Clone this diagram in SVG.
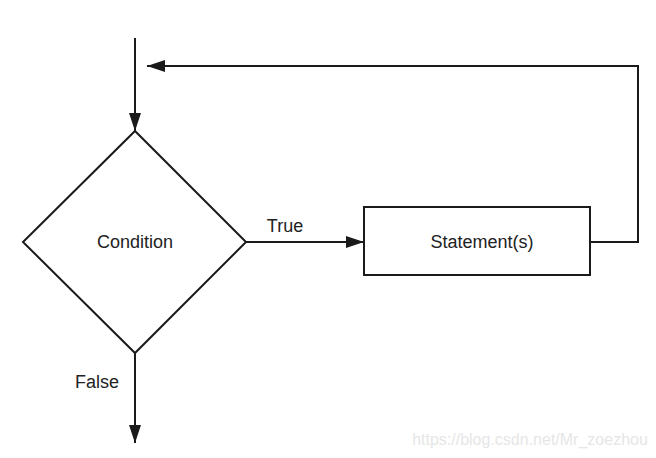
<svg xmlns="http://www.w3.org/2000/svg" width="656" height="458" viewBox="0 0 656 458">
<style>
.ln{stroke:#1a1a1a;stroke-width:2;fill:none}
.sh{stroke:#1a1a1a;stroke-width:2;fill:#fff}
.t{font-family:"Liberation Sans",Arial,sans-serif;font-size:18px;fill:#222}
.wm{font-family:"Liberation Sans",Arial,sans-serif;font-size:16px;fill:#e6e6e6}
</style>
<defs>
<marker id="ah" markerWidth="18" markerHeight="12" refX="18" refY="6" orient="auto" markerUnits="userSpaceOnUse">
<path d="M0,0 L18,6 L0,12 Z" fill="#1a1a1a"/>
</marker>
</defs>
<rect width="656" height="458" fill="#fff"/>
<g id="connectors">
<line class="ln" x1="135" y1="38" x2="135" y2="131" marker-end="url(#ah)"/>
<line class="ln" x1="246" y1="242" x2="364" y2="242" marker-end="url(#ah)"/>
<polyline class="ln" points="590,242 638,242 638,66 147,66" marker-end="url(#ah)"/>
<line class="ln" x1="135" y1="353" x2="135" y2="443" marker-end="url(#ah)"/>
<text class="t" x="285" y="232" text-anchor="middle">True</text>
<text class="t" x="97" y="388" text-anchor="middle">False</text>
</g>
<g id="condition">
<polygon class="sh" points="135,131 246,242 135,353 23,242"/>
<text class="t" x="135" y="248" text-anchor="middle">Condition</text>
</g>
<g id="statements">
<rect class="sh" x="364" y="207" width="226" height="68"/>
<text class="t" x="482" y="248" text-anchor="middle">Statement(s)</text>
</g>
<text class="wm" x="530" y="445" text-anchor="middle">https://blog.csdn.net/Mr_zoezhou</text>
</svg>
